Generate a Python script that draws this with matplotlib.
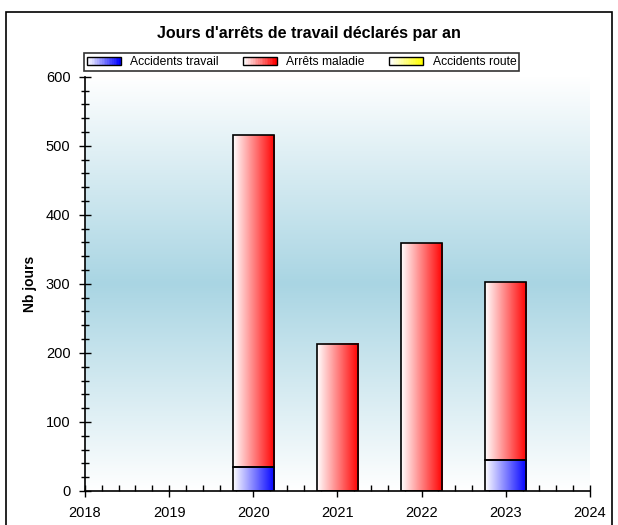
import matplotlib
matplotlib.use("Agg")
import matplotlib.pyplot as plt
import numpy as np
from matplotlib.colors import LinearSegmentedColormap
from matplotlib.legend_handler import HandlerBase
from matplotlib.patches import Rectangle
from matplotlib.ticker import MultipleLocator

plt.rcParams["font.family"] = ["Liberation Sans", "DejaVu Sans"]

years = [2020, 2021, 2022, 2023]
accidents_travail = [35, 0, 0, 45]
arrets_maladie = [480, 213, 359, 257]
accidents_route = [0, 0, 0, 0]
series_names = ["Accidents travail", "Arrêts maladie", "Accidents route"]
series_colors = ["#0000ff", "#ff0000", "#ffff00"]

fig = plt.figure(figsize=(6.18, 5.25), dpi=100)
ax = fig.add_axes([0.1375, 0.0648, 0.817, 0.789])

# outer frame
fig.patches.append(Rectangle((0.010, -0.05), 0.98, 1.027, transform=fig.transFigure,
                             fill=False, edgecolor="black", linewidth=1.2))

# background: white -> light blue -> white
bg = LinearSegmentedColormap.from_list("bg", ["#ffffff", "#a9d5e3", "#ffffff"])
ax.imshow(np.linspace(0, 1, 256).reshape(-1, 1), cmap=bg, aspect="auto",
          extent=[2018, 2024, 0, 600], zorder=0, origin="lower")


def gradient_fill(ax, patches, color):
    cmap = LinearSegmentedColormap.from_list("g", ["#ffffff", color])
    grad = np.linspace(0, 1, 256).reshape(1, -1)
    for p in patches:
        if p.get_height() <= 0:
            continue
        x0, y0 = p.get_x(), p.get_y()
        ax.imshow(grad, cmap=cmap, aspect="auto", zorder=2,
                  extent=[x0, x0 + p.get_width(), y0, y0 + p.get_height()])


bottom = np.zeros(len(years))
for vals, color in zip([accidents_travail, arrets_maladie, accidents_route], series_colors):
    vals = np.array(vals, dtype=float)
    bars = ax.bar(years, vals, width=0.49, bottom=bottom, facecolor="none",
                  edgecolor="black", linewidth=1.2, zorder=3)
    for p, v in zip(bars.patches, vals):
        if v <= 0:
            p.set_visible(False)
    gradient_fill(ax, bars.patches, color)
    bottom += vals

ax.set_xlim(2018, 2024)
ax.set_ylim(0, 600)
ax.xaxis.set_major_locator(MultipleLocator(1))
ax.xaxis.set_minor_locator(MultipleLocator(0.2))
ax.yaxis.set_major_locator(MultipleLocator(100))
ax.yaxis.set_minor_locator(MultipleLocator(20))
ax.tick_params(which="major", direction="inout", length=9, width=1, labelsize=10.5,
               colors="black", pad=6)
ax.tick_params(which="minor", direction="in", length=4, width=1)
ax.tick_params(axis="y", which="minor", direction="inout", length=6)
for s in ["top", "right"]:
    ax.spines[s].set_visible(False)
for s in ["left", "bottom"]:
    ax.spines[s].set_linewidth(1.2)

ax.set_ylabel("Nb jours", fontsize=10, fontweight="bold", labelpad=6)
fig.text(0.5, 0.937, "Jours d'arrêts de travail déclarés par an", ha="center",
         va="center", fontsize=11.5, fontweight="bold")


class GradientHandler(HandlerBase):
    def __init__(self, color):
        super().__init__()
        self.color = color

    def create_artists(self, legend, orig_handle, xdescent, ydescent, width, height,
                       fontsize, trans):
        cmap = LinearSegmentedColormap.from_list("h", ["#ffffff", self.color])
        n = 20
        arts = []
        for i in range(n):
            r = Rectangle((-xdescent + width * i / n, -ydescent), width / n + 0.2, height,
                          facecolor=cmap(i / (n - 1)), edgecolor="none", transform=trans)
            arts.append(r)
        arts.append(Rectangle((-xdescent, -ydescent), width, height, facecolor="none",
                              edgecolor="black", linewidth=1.0, transform=trans))
        return arts


handles = [Rectangle((0, 0), 1, 1) for _ in series_names]
leg = fig.legend(handles, series_names, ncol=3, loc="center",
                 bbox_to_anchor=(0.488, 0.882), fontsize=8.7, frameon=True,
                 fancybox=False, edgecolor="black", handlelength=2.8,
                 handleheight=0.6, columnspacing=2.0, borderpad=0.25,
                 handletextpad=0.8,
                 handler_map={h: GradientHandler(c) for h, c in zip(handles, series_colors)})
leg.get_frame().set_linewidth(1.2)

fig.savefig("out.png", dpi=100)
